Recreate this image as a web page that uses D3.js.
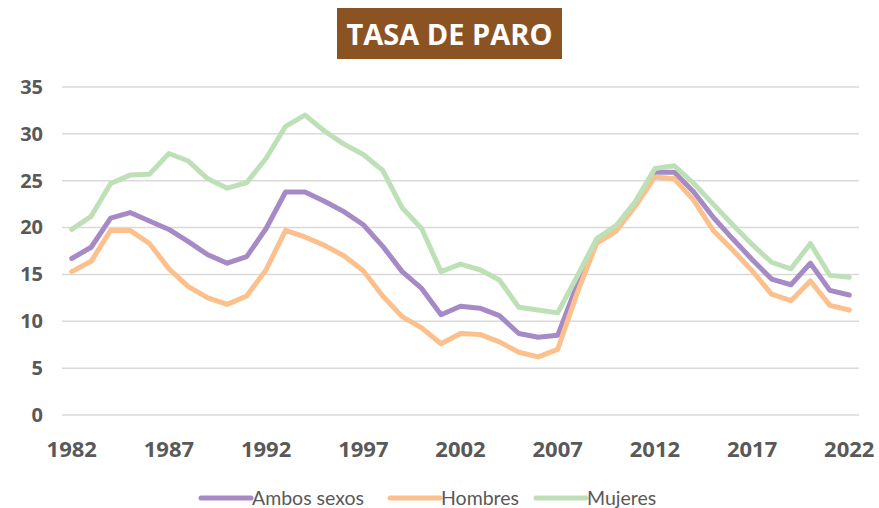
<!DOCTYPE html>
<html>
<head>
<meta charset="utf-8">
<style>
  html, body { margin: 0; padding: 0; background: #fff; }
  svg { display: block; }
</style>
<script src="https://cdn.jsdelivr.net/npm/d3@7"></script>
</head>
<body>
<div id="chart"></div>
<script>
// años 1982..2022
var years = d3.range(1982, 2023);
var tickYears = [1982, 1987, 1992, 1997, 2002, 2007, 2012, 2017, 2022];
var yTicks = [0, 5, 10, 15, 20, 25, 30, 35];

var ambos = [16.7, 17.9, 21.0, 21.6, 20.7, 19.8, 18.5, 17.1, 16.2, 16.9,
  19.9, 23.8, 23.8, 22.8, 21.7, 20.3, 18.0, 15.3, 13.5, 10.7,
  11.6, 11.4, 10.6, 8.7, 8.3, 8.5, 13.9, 18.5, 20.0, 22.6,
  25.9, 25.9, 23.8, 21.1, 18.8, 16.6, 14.5, 13.9, 16.2, 13.3, 12.8];
var hombres = [15.3, 16.4, 19.7, 19.7, 18.3, 15.6, 13.7, 12.5, 11.8, 12.7,
  15.5, 19.7, 19.0, 18.1, 17.0, 15.4, 12.7, 10.5, 9.3, 7.6,
  8.7, 8.6, 7.8, 6.7, 6.2, 7.0, 13.0, 18.3, 19.6, 22.3,
  25.4, 25.2, 22.9, 19.7, 17.6, 15.4, 12.9, 12.2, 14.3, 11.7, 11.2];
var mujeres = [19.8, 21.2, 24.7, 25.6, 25.7, 27.9, 27.1, 25.2, 24.2, 24.8,
  27.4, 30.8, 32.0, 30.3, 28.9, 27.8, 26.1, 22.1, 19.9, 15.3,
  16.1, 15.5, 14.4, 11.5, 11.2, 10.9, 14.8, 18.8, 20.2, 22.8,
  26.3, 26.6, 24.7, 22.5, 20.3, 18.2, 16.3, 15.6, 18.3, 14.9, 14.7];

var seriesNames = ["Ambos sexos", "Hombres", "Mujeres"];
var seriesColors = ["#a68ac5", "#fcc08c", "#bde0b7"];
var series = [ambos, hombres, mujeres];

var width = 879, height = 508;

var svg = d3.select("#chart").append("svg")
    .attr("width", width)
    .attr("height", height);

// título
var title = svg.append("g");
title.append("rect")
    .attr("x", 337).attr("y", 8)
    .attr("width", 225).attr("height", 51)
    .attr("fill", "#8c5322");
title.append("text")
    .attr("x", 449.5).attr("y", 45)
    .attr("text-anchor", "middle")
    .attr("fill", "#fff")
    .attr("font-family", "'Open Sans', sans-serif")
    .attr("font-weight", "bold")
    .attr("font-size", 29)
    .text("TASA DE PARO");

var x = d3.scaleBand()
    .domain(years)
    .range([62, 859]);

var y = d3.scaleLinear()
    .domain([0, 35])
    .range([415, 87]);

// rejilla
svg.append("g")
    .selectAll("line")
    .data(yTicks)
    .join("line")
    .attr("x1", 62).attr("x2", 859)
    .attr("y1", d => y(d)).attr("y2", d => y(d))
    .attr("stroke", "#d9d9d9")
    .attr("stroke-width", 1.5);

var yAxis = d3.axisLeft(y).tickValues(yTicks).tickSize(0).tickPadding(0);
var gy = svg.append("g")
    .attr("transform", "translate(43,0)")
    .call(yAxis);
gy.select(".domain").remove();
gy.selectAll("text")
    .attr("font-family", "'Open Sans', sans-serif")
    .attr("font-weight", "bold")
    .attr("font-size", 20)
    .attr("fill", "#595959");

var xAxis = d3.axisBottom(x).tickValues(tickYears).tickSize(0).tickPadding(0);
var gx = svg.append("g")
    .attr("transform", "translate(0,441)")
    .call(xAxis);
gx.select(".domain").remove();
gx.selectAll("text")
    .attr("font-family", "'Open Sans', sans-serif")
    .attr("font-weight", "bold")
    .attr("font-size", 22)
    .attr("fill", "#595959");

var line = d3.line()
    .x((d, i) => x(years[i]) + x.bandwidth() / 2)
    .y(d => y(d));

svg.append("g")
    .selectAll("path")
    .data(series)
    .join("path")
    .attr("d", line)
    .attr("fill", "none")
    .attr("stroke", (d, i) => seriesColors[i])
    .attr("stroke-width", 5)
    .attr("stroke-linejoin", "round")
    .attr("stroke-linecap", "round");

// leyenda
var legendX = [201, 390, 536];
var legend = svg.append("g")
    .selectAll("g")
    .data(seriesNames)
    .join("g")
    .attr("transform", (d, i) => "translate(" + legendX[i] + ",498)");
legend.append("line")
    .attr("x1", 0).attr("x2", 50)
    .attr("stroke", (d, i) => seriesColors[i])
    .attr("stroke-width", 5)
    .attr("stroke-linecap", "round");
legend.append("text")
    .attr("x", 51).attr("y", 7)
    .attr("font-family", "Lato, sans-serif")
    .attr("font-size", 19.5)
    .attr("fill", "#595959")
    .text(d => d);
</script>
</body>
</html>
